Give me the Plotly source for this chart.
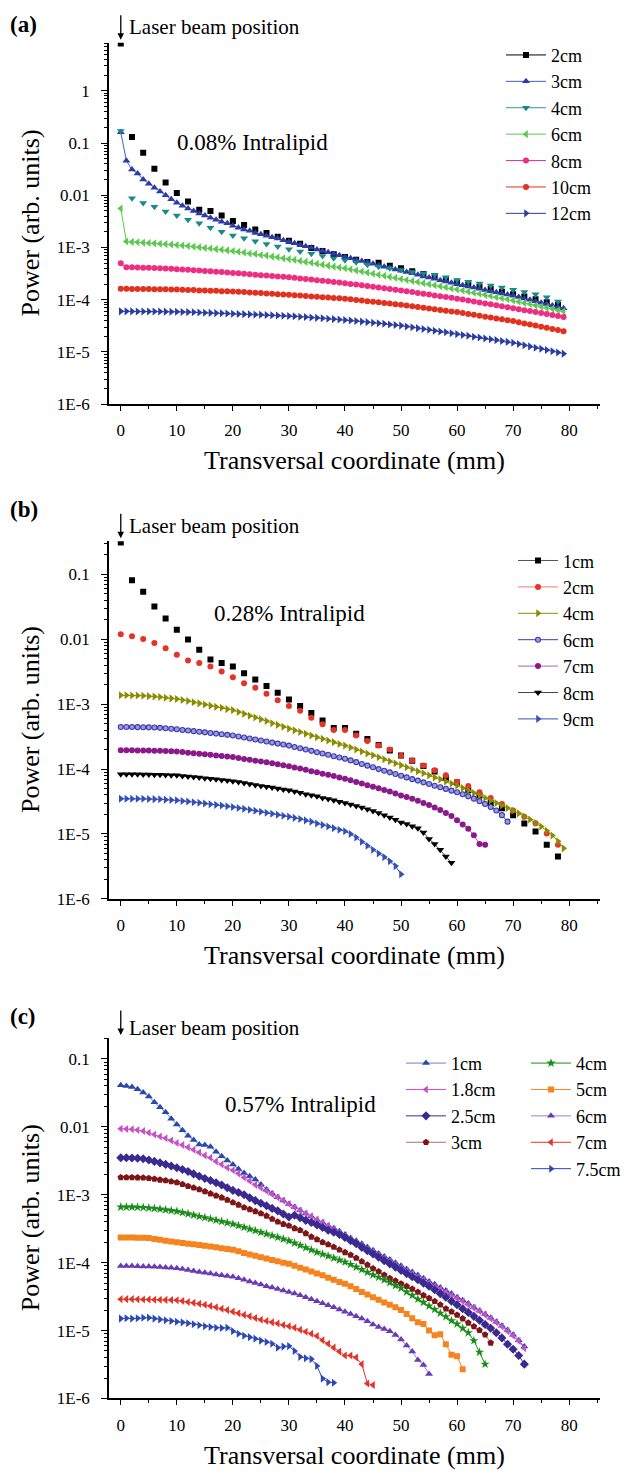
import plotly.graph_objects as go

W, H = 628, 1475
FONT = "Liberation Serif, Times New Roman, serif"


def px(x):
    return x / W


def py(y):
    return 1 - y / H


# ---------------- Panel (a): 0.08% Intralipid ----------------
A_X1 = list(range(0, 80))
A_X2 = list(range(0, 80, 2))
A_2CM = [8.0, 0.13, 0.065, 0.032, 0.0175, 0.011, 0.0076, 0.0053, 0.0050, 0.0041,
         0.0032, 0.0027, 0.0022, 0.0019, 0.0016, 0.00135, 0.00118, 0.00098, 0.00086, 0.00074,
         0.00066, 0.00058, 0.00053, 0.00051, 0.00045, 0.00040, 0.00035, 0.00031, 0.00028, 0.00025,
         0.00022, 0.000198, 0.000178, 0.00016, 0.000143, 0.000128, 0.000115, 0.000102, 0.00009, 0.000079]
A_3CM = [0.16, 0.046, 0.031, 0.026, 0.020, 0.0167, 0.014, 0.0118, 0.0100, 0.0084,
         0.0072, 0.0063, 0.0056, 0.0050, 0.0045, 0.0041, 0.0037, 0.0034, 0.0031, 0.0029,
         0.0026, 0.0024, 0.0022, 0.0021, 0.0019, 0.0018, 0.00168, 0.00158, 0.00148, 0.00138,
         0.00129, 0.00121, 0.00113, 0.00106, 0.00099, 0.00092, 0.00086, 0.00081, 0.00075, 0.00071,
         0.00066, 0.00062, 0.00058, 0.00055, 0.00052, 0.00049, 0.00046, 0.00043, 0.00041, 0.00038,
         0.00036, 0.00034, 0.00032, 0.00030, 0.00028, 0.000266, 0.000251, 0.000237, 0.000224, 0.000211,
         0.000199, 0.000189, 0.00018, 0.000171, 0.000162, 0.000154, 0.000146, 0.000139, 0.000132, 0.000126,
         0.00012, 0.000113, 0.000106, 0.0001, 0.000094, 0.000088, 0.000083, 0.000078, 0.000073, 0.000069]
A_4CM = [0.17, 0.0088, 0.0071, 0.0060, 0.0049, 0.0041, 0.0034, 0.0029, 0.0024, 0.0020,
         0.0017, 0.0015, 0.00132, 0.00117, 0.00104, 0.00093, 0.00084, 0.00076, 0.00069, 0.00062,
         0.00057, 0.00052, 0.00047, 0.00043, 0.0004, 0.00037, 0.00034, 0.00032, 0.0003, 0.00027,
         0.00024, 0.00022, 0.000205, 0.000188, 0.000172, 0.000156, 0.000141, 0.000127, 0.000112, 0.000093]
A_6CM = [0.0056, 0.0013, 0.00128, 0.00126, 0.00124, 0.00122, 0.0012, 0.00118, 0.00116, 0.00114,
         0.00112, 0.00109, 0.00107, 0.00104, 0.00101, 0.00098, 0.00096, 0.00093, 0.00091, 0.00088,
         0.00086, 0.00083, 0.0008, 0.00077, 0.00075, 0.00072, 0.0007, 0.00067, 0.00065, 0.00062,
         0.0006, 0.00058, 0.00055, 0.00053, 0.00051, 0.00049, 0.00047, 0.00045, 0.00043, 0.000415,
         0.0004, 0.000382, 0.000364, 0.000347, 0.000331, 0.000316, 0.000302, 0.000288, 0.000274, 0.000262,
         0.00025, 0.000239, 0.000228, 0.000218, 0.000208, 0.000199, 0.00019, 0.000181, 0.000173, 0.000165,
         0.000158, 0.00015, 0.000143, 0.000136, 0.00013, 0.000124, 0.000118, 0.000112, 0.000107, 0.000102,
         0.000097, 0.000092, 0.000087, 0.000083, 0.000078, 0.000074, 0.00007, 0.000067, 0.000063, 0.00006]
A_8CM = [5.0e-4, 4.2e-4, 4.18e-4, 4.15e-4, 4.12e-4, 4.08e-4, 4.04e-4, 4.0e-4, 3.95e-4, 3.9e-4,
         3.85e-4, 3.8e-4, 3.74e-4, 3.68e-4, 3.62e-4, 3.56e-4, 3.5e-4, 3.44e-4, 3.38e-4, 3.32e-4,
         3.26e-4, 3.2e-4, 3.14e-4, 3.08e-4, 3.02e-4, 2.96e-4, 2.91e-4, 2.85e-4, 2.8e-4, 2.75e-4,
         2.7e-4, 2.63e-4, 2.56e-4, 2.49e-4, 2.43e-4, 2.37e-4, 2.31e-4, 2.25e-4, 2.19e-4, 2.13e-4,
         2.08e-4, 2.01e-4, 1.95e-4, 1.89e-4, 1.83e-4, 1.77e-4, 1.71e-4, 1.66e-4, 1.61e-4, 1.56e-4,
         1.51e-4, 1.46e-4, 1.4e-4, 1.35e-4, 1.3e-4, 1.26e-4, 1.21e-4, 1.17e-4, 1.13e-4, 1.09e-4,
         1.05e-4, 1.01e-4, 9.65e-5, 9.25e-5, 8.87e-5, 8.51e-5, 8.16e-5, 7.83e-5, 7.51e-5, 7.2e-5,
         6.9e-5, 6.61e-5, 6.33e-5, 6.07e-5, 5.81e-5, 5.57e-5, 5.33e-5, 5.11e-5, 4.9e-5, 4.7e-5]
A_10CM = [1.62e-4, 1.62e-4, 1.61e-4, 1.61e-4, 1.6e-4, 1.6e-4, 1.59e-4, 1.58e-4, 1.58e-4, 1.57e-4,
          1.57e-4, 1.55e-4, 1.54e-4, 1.53e-4, 1.51e-4, 1.5e-4, 1.49e-4, 1.48e-4, 1.46e-4, 1.45e-4,
          1.44e-4, 1.42e-4, 1.4e-4, 1.38e-4, 1.36e-4, 1.34e-4, 1.32e-4, 1.3e-4, 1.28e-4, 1.26e-4,
          1.24e-4, 1.22e-4, 1.2e-4, 1.18e-4, 1.16e-4, 1.14e-4, 1.12e-4, 1.1e-4, 1.085e-4, 1.067e-4,
          1.05e-4, 1.022e-4, 9.94e-5, 9.67e-5, 9.41e-5, 9.16e-5, 8.91e-5, 8.67e-5, 8.44e-5, 8.21e-5,
          8.0e-5, 7.74e-5, 7.5e-5, 7.26e-5, 7.02e-5, 6.8e-5, 6.58e-5, 6.37e-5, 6.17e-5, 5.97e-5,
          5.8e-5, 5.57e-5, 5.36e-5, 5.15e-5, 4.95e-5, 4.75e-5, 4.57e-5, 4.39e-5, 4.22e-5, 4.06e-5,
          3.9e-5, 3.71e-5, 3.53e-5, 3.36e-5, 3.2e-5, 3.05e-5, 2.9e-5, 2.76e-5, 2.63e-5, 2.5e-5]
A_12CM = [6.0e-5, 6.0e-5, 5.99e-5, 5.98e-5, 5.97e-5, 5.96e-5, 5.95e-5, 5.94e-5, 5.92e-5, 5.91e-5,
          5.9e-5, 5.85e-5, 5.8e-5, 5.75e-5, 5.7e-5, 5.65e-5, 5.6e-5, 5.55e-5, 5.5e-5, 5.45e-5,
          5.4e-5, 5.35e-5, 5.3e-5, 5.25e-5, 5.2e-5, 5.15e-5, 5.1e-5, 5.05e-5, 5.0e-5, 4.95e-5,
          4.9e-5, 4.82e-5, 4.74e-5, 4.66e-5, 4.58e-5, 4.5e-5, 4.42e-5, 4.34e-5, 4.26e-5, 4.18e-5,
          4.1e-5, 4.0e-5, 3.91e-5, 3.82e-5, 3.73e-5, 3.64e-5, 3.55e-5, 3.46e-5, 3.37e-5, 3.28e-5,
          3.2e-5, 3.08e-5, 2.97e-5, 2.86e-5, 2.76e-5, 2.66e-5, 2.56e-5, 2.47e-5, 2.38e-5, 2.29e-5,
          2.2e-5, 2.12e-5, 2.04e-5, 1.96e-5, 1.89e-5, 1.82e-5, 1.75e-5, 1.69e-5, 1.62e-5, 1.56e-5,
          1.5e-5, 1.42e-5, 1.35e-5, 1.28e-5, 1.21e-5, 1.15e-5, 1.09e-5, 1.03e-5, 9.8e-6, 9.3e-6]

# ---------------- Panel (b): 0.28% Intralipid ----------------
B_X2 = list(range(0, 80, 2))
B_1CM = [0.31, 0.081, 0.054, 0.032, 0.021, 0.014, 0.0099, 0.0069, 0.0049, 0.0043,
         0.0038, 0.003, 0.0024, 0.0019, 0.0015, 0.00118, 0.00094, 0.00073, 0.00056, 0.00043,
         0.00043, 0.00035, 0.00029, 0.000235, 0.000194, 0.000162, 0.000135, 0.000112, 0.000092, 0.000073,
         0.000062, 0.000047, 0.000039, 0.00003, 0.000025, 0.0000195, 0.0000145, 0.0000109, 0.0000068, 0.0000045]
B_2CM = [0.012, 0.0111, 0.0101, 0.0088, 0.0073, 0.0058, 0.0047, 0.0043, 0.0038, 0.0032,
         0.0026, 0.0021, 0.0018, 0.00145, 0.00115, 0.00094, 0.00079, 0.00062, 0.00049, 0.0004,
         0.0004, 0.00033, 0.00027, 0.00023, 0.0002, 0.00016, 0.000136, 0.000114, 0.000096, 0.00008,
         0.000064, 0.000055, 0.000044, 0.000036, 0.000029, 0.000023, 0.0000185, 0.0000146, 0.0000102, 0.0000068]
B_X_4CM = list(range(0, 80))
B_4CM = [1.37e-3, 1.37e-3, 1.36e-3, 1.36e-3, 1.35e-3, 1.33e-3, 1.31e-3, 1.29e-3, 1.26e-3, 1.23e-3,
         1.2e-3, 1.16e-3, 1.12e-3, 1.07e-3, 1.03e-3, 9.9e-4, 9.5e-4, 9.1e-4, 8.8e-4, 8.4e-4,
         8.1e-4, 7.6e-4, 7.1e-4, 6.65e-4, 6.25e-4, 5.85e-4, 5.5e-4, 5.1e-4, 4.8e-4, 4.5e-4,
         4.2e-4, 3.95e-4, 3.72e-4, 3.5e-4, 3.3e-4, 3.1e-4, 2.93e-4, 2.76e-4, 2.6e-4, 2.44e-4,
         2.3e-4, 2.15e-4, 2.0e-4, 1.87e-4, 1.74e-4, 1.63e-4, 1.52e-4, 1.42e-4, 1.32e-4, 1.23e-4,
         1.15e-4, 1.07e-4, 9.95e-5, 9.25e-5, 8.6e-5, 8.0e-5, 7.45e-5, 6.95e-5, 6.45e-5, 6.0e-5,
         5.6e-5, 5.12e-5, 4.69e-5, 4.29e-5, 3.92e-5, 3.59e-5, 3.28e-5, 3.0e-5, 2.75e-5, 2.51e-5,
         2.3e-5, 2.08e-5, 1.87e-5, 1.67e-5, 1.48e-5, 1.3e-5, 1.12e-5, 9.5e-6, 7.7e-6, 6.0e-6]
B_X_6CM = list(range(0, 70))
B_6CM = [4.45e-4, 4.45e-4, 4.44e-4, 4.43e-4, 4.42e-4, 4.4e-4, 4.37e-4, 4.32e-4, 4.26e-4, 4.18e-4,
         4.1e-4, 4.01e-4, 3.93e-4, 3.84e-4, 3.76e-4, 3.68e-4, 3.6e-4, 3.52e-4, 3.45e-4, 3.37e-4,
         3.3e-4, 3.18e-4, 3.07e-4, 2.96e-4, 2.86e-4, 2.75e-4, 2.66e-4, 2.56e-4, 2.47e-4, 2.39e-4,
         2.3e-4, 2.19e-4, 2.09e-4, 2.0e-4, 1.91e-4, 1.82e-4, 1.74e-4, 1.66e-4, 1.58e-4, 1.51e-4,
         1.44e-4, 1.36e-4, 1.28e-4, 1.2e-4, 1.13e-4, 1.07e-4, 1.0e-4, 9.45e-5, 8.9e-5, 8.4e-5,
         7.9e-5, 7.45e-5, 7.0e-5, 6.65e-5, 6.25e-5, 5.9e-5, 5.55e-5, 5.25e-5, 4.95e-5, 4.65e-5,
         4.4e-5, 4.1e-5, 3.8e-5, 3.5e-5, 3.2e-5, 2.9e-5, 2.6e-5, 2.3e-5, 1.95e-5, 1.55e-5]
B_X_7CM = list(range(0, 66))
B_7CM = [1.95e-4, 1.95e-4, 1.95e-4, 1.94e-4, 1.94e-4, 1.93e-4, 1.92e-4, 1.91e-4, 1.9e-4, 1.88e-4,
         1.87e-4, 1.83e-4, 1.79e-4, 1.76e-4, 1.72e-4, 1.69e-4, 1.66e-4, 1.62e-4, 1.59e-4, 1.56e-4,
         1.53e-4, 1.48e-4, 1.43e-4, 1.39e-4, 1.35e-4, 1.31e-4, 1.27e-4, 1.23e-4, 1.19e-4, 1.15e-4,
         1.11e-4, 1.06e-4, 1.02e-4, 9.75e-5, 9.3e-5, 8.9e-5, 8.5e-5, 8.15e-5, 7.8e-5, 7.45e-5,
         7.1e-5, 6.7e-5, 6.35e-5, 6.0e-5, 5.65e-5, 5.35e-5, 5.05e-5, 4.75e-5, 4.5e-5, 4.2e-5,
         3.9e-5, 3.7e-5, 3.5e-5, 3.25e-5, 3.0e-5, 2.8e-5, 2.55e-5, 2.35e-5, 2.1e-5, 1.9e-5,
         1.63e-5, 1.4e-5, 1.2e-5, 9.6e-6, 7.0e-6, 6.8e-6]
B_X_8CM = list(range(0, 60))
B_8CM = [8.3e-5, 8.3e-5, 8.3e-5, 8.3e-5, 8.25e-5, 8.25e-5, 8.2e-5, 8.15e-5, 8.1e-5, 8.05e-5,
         8.0e-5, 7.85e-5, 7.7e-5, 7.55e-5, 7.4e-5, 7.25e-5, 7.1e-5, 6.95e-5, 6.8e-5, 6.65e-5,
         6.5e-5, 6.3e-5, 6.1e-5, 5.9e-5, 5.7e-5, 5.5e-5, 5.35e-5, 5.2e-5, 5.0e-5, 4.85e-5,
         4.7e-5, 4.5e-5, 4.3e-5, 4.1e-5, 3.95e-5, 3.8e-5, 3.6e-5, 3.45e-5, 3.3e-5, 3.15e-5,
         3.0e-5, 2.85e-5, 2.7e-5, 2.55e-5, 2.4e-5, 2.25e-5, 2.1e-5, 1.95e-5, 1.8e-5, 1.65e-5,
         1.5e-5, 1.42e-5, 1.32e-5, 1.23e-5, 1.05e-5, 8.4e-6, 7.0e-6, 5.7e-6, 4.5e-6, 3.6e-6]
B_X_9CM = list(range(0, 51))
B_9CM = [3.5e-5, 3.5e-5, 3.5e-5, 3.5e-5, 3.48e-5, 3.46e-5, 3.44e-5, 3.42e-5, 3.38e-5, 3.34e-5,
         3.3e-5, 3.23e-5, 3.16e-5, 3.09e-5, 3.02e-5, 2.95e-5, 2.88e-5, 2.81e-5, 2.74e-5, 2.67e-5,
         2.6e-5, 2.52e-5, 2.44e-5, 2.36e-5, 2.28e-5, 2.2e-5, 2.12e-5, 2.05e-5, 1.98e-5, 1.91e-5,
         1.85e-5, 1.77e-5, 1.7e-5, 1.62e-5, 1.55e-5, 1.45e-5, 1.38e-5, 1.3e-5, 1.23e-5, 1.16e-5,
         1.1e-5, 1.0e-5, 8.8e-6, 7.6e-6, 6.6e-6, 5.7e-6, 5.0e-6, 4.4e-6, 3.8e-6, 3.2e-6,
         2.4e-6]

# ---------------- Panel (c): 0.57% Intralipid ----------------
C_X_73 = list(range(0, 73))
C_1CM = [0.041, 0.040, 0.0388, 0.0359, 0.0321, 0.0281, 0.023, 0.0194, 0.0164, 0.0132,
         0.0108, 0.0089, 0.0074, 0.0064, 0.0055, 0.0054, 0.0051, 0.0043, 0.0037, 0.0032,
         0.0028, 0.0024, 0.0021, 0.00187, 0.00168, 0.00142, 0.0012, 0.00104, 0.00092, 0.00082,
         0.00073, 0.00066, 0.00059, 0.00053, 0.00048, 0.00043, 0.00039, 0.00035, 0.00032, 0.00029,
         0.00026, 0.00023, 0.00021, 0.00019, 0.00017, 0.000152, 0.000137, 0.000123, 0.000111, 0.0001,
         0.00009, 0.000081, 0.000073, 0.000066, 0.000059, 0.000053, 0.000048, 0.000043, 0.000039, 0.000035,
         0.000031, 0.000028, 0.000025, 0.000022, 0.0000196, 0.0000174, 0.0000154, 0.0000135, 0.0000118, 0.0000102,
         0.0000087, 0.0000072, 0.0000058]
C_1_8CM = [0.0094, 0.0093, 0.0092, 0.009, 0.0087, 0.0082, 0.0077, 0.0072, 0.0068, 0.0063,
           0.0058, 0.0054, 0.005, 0.0046, 0.0042, 0.0038, 0.0035, 0.0031, 0.0028, 0.0025,
           0.0023, 0.00205, 0.0018, 0.0016, 0.0014, 0.00127, 0.00114, 0.00102, 0.00091, 0.00082,
           0.00073, 0.00065, 0.00058, 0.00053, 0.00048, 0.00043, 0.00039, 0.00035, 0.00031, 0.00028,
           0.00025, 0.00022, 0.0002, 0.00018, 0.00016, 0.000145, 0.00013, 0.000117, 0.000105, 0.000094,
           0.000084, 0.000076, 0.000069, 0.000062, 0.000056, 0.00005, 0.000045, 0.000041, 0.000037, 0.000033,
           0.00003, 0.000027, 0.000024, 0.0000215, 0.0000192, 0.000017, 0.000015, 0.0000132, 0.0000115, 0.0000098,
           0.0000084, 0.000007, 0.0000055]
C_2_5CM = [0.0035, 0.0035, 0.00348, 0.00345, 0.0034, 0.00325, 0.0031, 0.00295, 0.0028, 0.00265,
           0.0025, 0.00235, 0.0022, 0.00203, 0.00187, 0.00174, 0.00162, 0.0015, 0.00139, 0.00127,
           0.00116, 0.00108, 0.001, 0.0009, 0.00082, 0.00075, 0.00069, 0.00063, 0.00058, 0.00052,
           0.00047, 0.0005, 0.00046, 0.00042, 0.00039, 0.00036, 0.00033, 0.0003, 0.00028, 0.00026,
           0.000235, 0.00021, 0.00019, 0.000168, 0.00015, 0.000134, 0.00012, 0.000107, 0.000096, 0.000086,
           0.000077, 0.000069, 0.000062, 0.000056, 0.00005, 0.000045, 0.00004, 0.000035, 0.000031, 0.000027,
           0.000024, 0.000021, 0.0000185, 0.0000162, 0.0000142, 0.0000123, 0.0000108, 0.0000093, 0.0000078, 0.0000063,
           0.0000053, 0.0000043, 0.0000032]
C_X_3CM = list(range(0, 67))
C_3CM = [0.0018, 0.0018, 0.0018, 0.00179, 0.00178, 0.00175, 0.00171, 0.00166, 0.00162, 0.00157,
         0.00152, 0.00143, 0.00134, 0.00127, 0.0012, 0.00112, 0.00104, 0.00097, 0.00091, 0.00084,
         0.00077, 0.00071, 0.00065, 0.00061, 0.00057, 0.00053, 0.00049, 0.00044, 0.0004, 0.00037,
         0.00035, 0.00032, 0.0003, 0.00027, 0.00024, 0.00022, 0.0002, 0.000185, 0.00017, 0.000155,
         0.000142, 0.00013, 0.000117, 0.000104, 0.000093, 0.000082, 0.000074, 0.000066, 0.000059, 0.000054,
         0.000049, 0.000045, 0.000041, 0.000037, 0.000033, 0.00003, 0.000027, 0.000024, 0.000021, 0.000019,
         0.000017, 0.000015, 0.000013, 0.0000115, 0.0000101, 0.0000087, 0.0000066]
C_X_4CM = list(range(0, 66))
C_4CM = [6.6e-4, 6.6e-4, 6.6e-4, 6.55e-4, 6.5e-4, 6.4e-4, 6.28e-4, 6.15e-4, 6.0e-4, 5.85e-4,
         5.7e-4, 5.47e-4, 5.25e-4, 5.03e-4, 4.8e-4, 4.6e-4, 4.41e-4, 4.22e-4, 4.04e-4, 3.87e-4,
         3.7e-4, 3.5e-4, 3.31e-4, 3.13e-4, 2.96e-4, 2.8e-4, 2.65e-4, 2.5e-4, 2.36e-4, 2.23e-4,
         2.1e-4, 1.94e-4, 1.8e-4, 1.66e-4, 1.54e-4, 1.42e-4, 1.33e-4, 1.25e-4, 1.17e-4, 1.09e-4,
         1.02e-4, 9.4e-5, 8.6e-5, 7.9e-5, 7.2e-5, 6.6e-5, 6.1e-5, 5.6e-5, 5.1e-5, 4.6e-5,
         4.2e-5, 3.7e-5, 3.3e-5, 2.9e-5, 2.6e-5, 2.3e-5, 2.05e-5, 1.8e-5, 1.6e-5, 1.4e-5,
         1.25e-5, 1.08e-5, 9.3e-6, 7.1e-6, 4.8e-6, 3.2e-6]
C_X_5CM = list(range(0, 62))
C_5CM = [2.35e-4, 2.35e-4, 2.35e-4, 2.33e-4, 2.32e-4, 2.3e-4, 2.24e-4, 2.18e-4, 2.11e-4, 2.05e-4,
         2.0e-4, 1.95e-4, 1.9e-4, 1.86e-4, 1.82e-4, 1.78e-4, 1.73e-4, 1.68e-4, 1.63e-4, 1.59e-4,
         1.55e-4, 1.47e-4, 1.39e-4, 1.32e-4, 1.26e-4, 1.2e-4, 1.15e-4, 1.09e-4, 1.05e-4, 1.0e-4,
         9.6e-5, 9.0e-5, 8.4e-5, 7.9e-5, 7.4e-5, 6.9e-5, 6.5e-5, 6.0e-5, 5.6e-5, 5.2e-5,
         4.9e-5, 4.5e-5, 4.1e-5, 3.7e-5, 3.4e-5, 3.1e-5, 2.85e-5, 2.6e-5, 2.4e-5, 2.2e-5,
         2.0e-5, 1.75e-5, 1.52e-5, 1.32e-5, 1.25e-5, 1.0e-5, 8.5e-6, 8.8e-6, 6.3e-6, 4.4e-6,
         4.2e-6, 2.7e-6]
C_X_6CM = list(range(0, 56))
C_6CM = [8.9e-5, 8.9e-5, 8.9e-5, 8.85e-5, 8.8e-5, 8.75e-5, 8.7e-5, 8.6e-5, 8.5e-5, 8.4e-5,
         8.3e-5, 8.05e-5, 7.8e-5, 7.55e-5, 7.3e-5, 7.1e-5, 6.9e-5, 6.7e-5, 6.5e-5, 6.35e-5,
         6.2e-5, 5.9e-5, 5.6e-5, 5.3e-5, 5.0e-5, 4.75e-5, 4.5e-5, 4.3e-5, 4.1e-5, 3.9e-5,
         3.7e-5, 3.5e-5, 3.3e-5, 3.1e-5, 2.9e-5, 2.7e-5, 2.52e-5, 2.36e-5, 2.2e-5, 2.05e-5,
         1.9e-5, 1.76e-5, 1.62e-5, 1.5e-5, 1.37e-5, 1.23e-5, 1.13e-5, 1.05e-5, 9.8e-6, 8.6e-6,
         7.4e-6, 6.0e-6, 4.9e-6, 3.7e-6, 3.1e-6, 2.3e-6]
C_X_7CM = list(range(0, 46))
C_7CM = [2.9e-5, 2.9e-5, 2.9e-5, 2.88e-5, 2.87e-5, 2.86e-5, 2.85e-5, 2.84e-5, 2.83e-5, 2.82e-5,
         2.8e-5, 2.72e-5, 2.64e-5, 2.56e-5, 2.48e-5, 2.4e-5, 2.3e-5, 2.2e-5, 2.1e-5, 2.0e-5,
         1.9e-5, 1.8e-5, 1.7e-5, 1.62e-5, 1.53e-5, 1.44e-5, 1.38e-5, 1.32e-5, 1.27e-5, 1.21e-5,
         1.16e-5, 1.1e-5, 1.03e-5, 9.6e-6, 9.0e-6, 8.3e-6, 7.2e-6, 6.4e-6, 5.6e-6, 4.9e-6,
         4.3e-6, 4.3e-6, 4.0e-6, 3.2e-6, 1.66e-6, 1.58e-6]
C_X_7_5CM = list(range(0, 39))
C_7_5CM = [1.5e-5, 1.52e-5, 1.5e-5, 1.52e-5, 1.54e-5, 1.55e-5, 1.5e-5, 1.46e-5, 1.42e-5, 1.38e-5,
           1.35e-5, 1.32e-5, 1.28e-5, 1.24e-5, 1.2e-5, 1.16e-5, 1.13e-5, 1.1e-5, 1.09e-5, 1.1e-5,
           9.8e-6, 9.0e-6, 8.4e-6, 8.0e-6, 7.6e-6, 7.1e-6, 6.8e-6, 6.4e-6, 5.6e-6, 5.8e-6,
           5.9e-6, 5.0e-6, 4.1e-6, 3.9e-6, 3.8e-6, 3.0e-6, 1.96e-6, 1.74e-6, 1.7e-6]

# Tick labels
Y_TICKVALS_A = [1e-6, 1e-5, 1e-4, 1e-3, 1e-2, 1e-1, 1]
Y_TICKTEXT_A = ["1E-6", "1E-5", "1E-4", "1E-3", "0.01", "0.1", "1"]
Y_TICKVALS_BC = [1e-6, 1e-5, 1e-4, 1e-3, 1e-2, 1e-1]
Y_TICKTEXT_BC = ["1E-6", "1E-5", "1E-4", "1E-3", "0.01", "0.1"]

fig = go.Figure()


def add(x, y, name, color, symbol, size, xa, ya, legend, with_line=True,
        line_color=None, fill=None, line_w=1.0):
    mk = dict(symbol=symbol, size=size, color=fill or color,
              line=dict(width=1.1 if fill else 0, color=color))
    ln = dict(color=line_color or color, width=line_w)
    if with_line:
        fig.add_trace(go.Scatter(x=x, y=y, name=name, mode="lines+markers",
                                 marker=mk, line=ln, xaxis=xa, yaxis=ya,
                                 legend=legend))
    else:
        fig.add_trace(go.Scatter(x=x, y=y, name=name, mode="markers",
                                 marker=mk, xaxis=xa, yaxis=ya,
                                 showlegend=False))
        fig.add_trace(go.Scatter(x=[None], y=[None], name=name,
                                 mode="lines+markers", marker=mk, line=ln,
                                 xaxis=xa, yaxis=ya, legend=legend))


# Panel (a)
add(A_X2, A_2CM, "2cm", "#000000", "square", 6, "x", "y", "legend", with_line=False)
add(A_X1, A_3CM, "3cm", "#2b3ca8", "triangle-up", 7, "x", "y", "legend", line_color="#4a5bbf")
add(A_X2, A_4CM, "4cm", "#178a8a", "triangle-down", 7, "x", "y", "legend", with_line=False, line_color="#2a9a9a")
add(A_X1, A_6CM, "6cm", "#5cc850", "triangle-left", 7, "x", "y", "legend")
add(A_X1, A_8CM, "8cm", "#ec2f82", "circle", 6, "x", "y", "legend")
add(A_X1, A_10CM, "10cm", "#e2311f", "circle", 6, "x", "y", "legend")
add(A_X1, A_12CM, "12cm", "#2b3d9e", "triangle-right", 7, "x", "y", "legend")

# Panel (b)
add(B_X2, B_1CM, "1cm", "#000000", "square", 6, "x2", "y2", "legend2", with_line=False, line_color="#555555")
add(B_X2, B_2CM, "2cm", "#e53328", "circle", 6, "x2", "y2", "legend2", with_line=False, line_color="#ef7a70")
add(B_X_4CM, B_4CM, "4cm", "#8c8c00", "triangle-right", 7, "x2", "y2", "legend2")
add(B_X_6CM, B_6CM, "6cm", "#3b3bab", "circle", 5, "x2", "y2", "legend2", fill="#9a9ae0")
add(B_X_7CM, B_7CM, "7cm", "#8a1a8a", "circle", 6, "x2", "y2", "legend2", line_color="#b060b0")
add(B_X_8CM, B_8CM, "8cm", "#000000", "triangle-down", 7, "x2", "y2", "legend2", line_color="#444444")
add(B_X_9CM, B_9CM, "9cm", "#3450b8", "triangle-right", 7, "x2", "y2", "legend2")

# Panel (c)
add(C_X_73, C_1CM, "1cm", "#2a48ac", "triangle-up", 7, "x3", "y3", "legend3", line_color="#6b80c8")
add(C_X_73, C_1_8CM, "1.8cm", "#c651c6", "triangle-left", 7, "x3", "y3", "legend3")
add(C_X_73, C_2_5CM, "2.5cm", "#3a2a90", "diamond", 7, "x3", "y3", "legend3")
add(C_X_3CM, C_3CM, "3cm", "#7d1616", "pentagon", 7, "x3", "y3", "legend3", line_color="#b07070")
add(C_X_4CM, C_4CM, "4cm", "#1a8c1a", "star", 7, "x3", "y3", "legend4")
add(C_X_5CM, C_5CM, "5cm", "#f5841f", "square", 6, "x3", "y3", "legend4")
add(C_X_6CM, C_6CM, "6cm", "#6a3cb4", "triangle-up", 7, "x3", "y3", "legend4", line_color="#9c80d0")
add(C_X_7CM, C_7CM, "7cm", "#e3342a", "triangle-left", 7, "x3", "y3", "legend4")
add(C_X_7_5CM, C_7_5CM, "7.5cm", "#2b48b4", "triangle-right", 7, "x3", "y3", "legend4")

tickfont = dict(family=FONT, size=17, color="black")
X_LEFT, X_RIGHT = 109, 600


def xaxis_cfg(anchor):
    return dict(domain=[px(X_LEFT), px(X_RIGHT)], anchor=anchor, range=[-2.1, 85.5],
                tickmode="linear", tick0=0, dtick=10, ticks="outside", ticklen=5,
                tickwidth=1.3, tickcolor="black", showline=True, linecolor="black",
                linewidth=1.5, showgrid=False, zeroline=False, tickfont=tickfont,
                ticklabelstandoff=5,
                minor=dict(ticks="outside", ticklen=3, tickwidth=1.3, tickcolor="black",
                           tick0=0, dtick=5, showgrid=False))


def yaxis_cfg(anchor, top_px, bot_px, rng, vals, text):
    return dict(domain=[py(bot_px), py(top_px)], anchor=anchor, type="log", range=rng,
                tickmode="array", tickvals=vals, ticktext=text, ticks="outside",
                ticklen=6, tickwidth=1.3, tickcolor="black", showline=True,
                linecolor="black", linewidth=1.5, showgrid=False, zeroline=False,
                tickfont=tickfont, ticklabelstandoff=8,
                minor=dict(ticks="outside", ticklen=3, tickwidth=1, tickcolor="black",
                           dtick="D1", showgrid=False))


def legend_cfg(x_px, top_px):
    return dict(x=px(x_px), y=py(top_px), xanchor="left", yanchor="top",
                bgcolor="rgba(0,0,0,0)", borderwidth=0, itemwidth=40,
                font=dict(family=FONT, size=18, color="black"),
                tracegroupgap=0, traceorder="normal")


ann = []
panels = [("(a)", 25, 27, 43, 407, "0.08% Intralipid", 175, 143, "x", "y"),
          ("(b)", 513, 530, 545, 905, "0.28% Intralipid", 212, 618, "x2", "y2"),
          ("(c)", 1023, 1035, 1045, 1408, "0.57% Intralipid", 223, 1112, "x3", "y3")]
for lab, lab_y, laser_y, top, bot, conc, cx, cy, xr, yr in panels:
    ann.append(dict(text="<b>" + lab + "</b>", x=px(8), y=py(lab_y), xref="paper", yref="paper",
                    xanchor="left", yanchor="middle", showarrow=False,
                    font=dict(family=FONT, size=23, color="black")))
    ann.append(dict(text="Laser beam position", x=px(127), y=py(laser_y), xref="paper",
                    yref="paper", xanchor="left", yanchor="middle", showarrow=False,
                    font=dict(family=FONT, size=21, color="black")))
    ann.append(dict(text="", x=0, y=1, xref=xr, yref=yr + " domain", ax=0, ay=-26,
                    showarrow=True, arrowhead=2, arrowsize=1, arrowwidth=1.3,
                    arrowcolor="black", yshift=3, standoff=0, startstandoff=0))
    ann.append(dict(text=conc, x=px(cx), y=py(cy), xref="paper", yref="paper",
                    xanchor="left", yanchor="middle", showarrow=False,
                    font=dict(family=FONT, size=23, color="black")))
    ann.append(dict(text="Power (arb. units)", x=px(30), y=py((top + bot) / 2),
                    xref="paper", yref="paper", xanchor="center", yanchor="middle",
                    textangle=-90, showarrow=False,
                    font=dict(family=FONT, size=26, color="black")))
    ann.append(dict(text="Transversal coordinate (mm)", x=px(354), y=py(bot + 57),
                    xref="paper", yref="paper", xanchor="center", yanchor="middle",
                    showarrow=False, font=dict(family=FONT, size=26, color="black")))

fig.update_layout(
    width=W, height=H, margin=dict(l=0, r=0, t=0, b=0),
    paper_bgcolor="white", plot_bgcolor="white",
    font=dict(family=FONT, color="black"),
    xaxis=xaxis_cfg("y"), yaxis=yaxis_cfg("x", 43, 407, [-6, 0.92], Y_TICKVALS_A, Y_TICKTEXT_A),
    xaxis2=xaxis_cfg("y2"), yaxis2=yaxis_cfg("x2", 545, 905, [-6, -0.49], Y_TICKVALS_BC, Y_TICKTEXT_BC),
    xaxis3=xaxis_cfg("y3"), yaxis3=yaxis_cfg("x3", 1045, 1408, [-6, -0.69], Y_TICKVALS_BC, Y_TICKTEXT_BC),
    legend=legend_cfg(501, 37),
    legend2=legend_cfg(513, 546),
    legend3=legend_cfg(401, 1052),
    legend4=legend_cfg(526, 1052),
    annotations=ann,
    showlegend=True,
)

fig.write_html("out.html")
